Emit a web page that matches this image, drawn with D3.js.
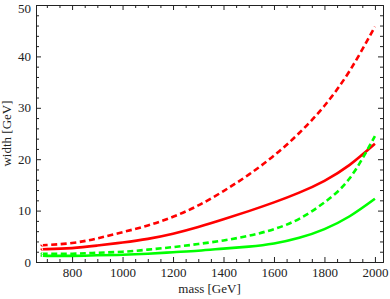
<!DOCTYPE html>
<html>
<head>
<meta charset="utf-8">
<script src="https://cdn.jsdelivr.net/npm/d3@7"></script>
<style>
  body { margin: 0; background: #fff; }
</style>
</head>
<body>
<script>
//Size of the picture
var w = 390;
var h = 299;
var margin = {left: 36, right: 7, top: 5, bottom: 37};
var serif = "Liberation Serif";

//Data: masses in GeV, widths in GeV
var masses       = [680, 700, 800, 900, 1000, 1100, 1200, 1300, 1400, 1500, 1600, 1700, 1800, 1900, 2000];
var redSolid     = [2.5, 2.5, 2.7, 3.2, 3.8, 4.5, 5.5, 6.8, 8.3, 9.9, 11.6, 13.5, 15.8, 18.9, 23.0];
var redDashed    = [3.3, 3.3, 3.7, 4.6, 5.8, 7.1, 8.8, 11.0, 13.8, 17.0, 20.7, 25.1, 30.4, 37.2, 45.8];
var greenSolid   = [1.2, 1.2, 1.2, 1.3, 1.4, 1.6, 1.9, 2.2, 2.6, 3.0, 3.6, 4.7, 6.4, 8.9, 12.3];
var greenDashed  = [1.6, 1.6, 1.6, 1.8, 2.0, 2.4, 2.9, 3.5, 4.2, 5.1, 6.4, 8.4, 11.6, 16.3, 24.5];

var xTicks = [800, 1000, 1200, 1400, 1600, 1800, 2000];
var yTicks = [0, 10, 20, 30, 40, 50];

var series = [
  {values: redDashed,   color: "#ff0000", dash: "6,3.5"},
  {values: redSolid,    color: "#ff0000", dash: null},
  {values: greenDashed, color: "#00ff00", dash: "6,3.5"},
  {values: greenSolid,  color: "#00ff00", dash: null}
];

//Scales
var xScale = d3.scaleLinear()
  .domain([657, 2032])
  .range([margin.left, w - margin.right]);

var yScale = d3.scaleLinear()
  .domain([0, 50])
  .range([h - margin.bottom, margin.top]);

var svg = d3.select("body")
  .append("svg")
  .attr("width", w)
  .attr("height", h);

//Curves
var line = d3.line()
  .x(function(d) { return xScale(d[0]); })
  .y(function(d) { return yScale(d[1]); })
  .curve(d3.curveNatural);

svg.append("g")
  .selectAll("path")
  .data(series)
  .enter()
  .append("path")
  .attr("fill", "none")
  .attr("stroke", function(d) { return d.color; })
  .attr("stroke-width", 2.6)
  .attr("stroke-dasharray", function(d) { return d.dash; })
  .attr("d", function(d) {
    return line(masses.map(function(m, i) { return [m, d.values[i]]; }));
  });

//Frame axes, ticks pointing inside
var xMinor = d3.range(700, 2001, 50).filter(function(v) { return v % 200 !== 0; });
var yMinor = d3.range(0, 51, 2).filter(function(v) { return v % 10 !== 0; });

function frameAxis(axis, transform) {
  var g = svg.append("g").attr("transform", transform).call(axis);
  g.attr("font-family", serif).attr("font-size", 13);
  g.select(".domain").attr("stroke", "#222");
  g.selectAll(".tick line").attr("stroke", "#222");
  return g;
}

var H = h - margin.bottom, W = w - margin.right;

//bottom
frameAxis(d3.axisBottom(xScale).tickValues(xTicks).tickSize(-5).tickSizeOuter(0)
  .tickFormat(d3.format("d")), "translate(0," + H + ")")
  .selectAll("text").attr("y", 6);
frameAxis(d3.axisBottom(xScale).tickValues(xMinor).tickSize(-3).tickSizeOuter(0)
  .tickFormat(""), "translate(0," + H + ")");
//top
frameAxis(d3.axisTop(xScale).tickValues(xTicks).tickSize(-5).tickSizeOuter(0)
  .tickFormat(""), "translate(0," + margin.top + ")");
frameAxis(d3.axisTop(xScale).tickValues(xMinor).tickSize(-3).tickSizeOuter(0)
  .tickFormat(""), "translate(0," + margin.top + ")");
//left
frameAxis(d3.axisLeft(yScale).tickValues(yTicks).tickSize(-5).tickSizeOuter(0)
  .tickFormat(d3.format("d")), "translate(" + margin.left + ",0)")
  .selectAll("text")
  .attr("x", -5)
  .attr("dy", function(d) { return d === 50 ? "0.55em" : "0.32em"; });  //top label nudged into view
frameAxis(d3.axisLeft(yScale).tickValues(yMinor).tickSize(-3).tickSizeOuter(0)
  .tickFormat(""), "translate(" + margin.left + ",0)");
//right
frameAxis(d3.axisRight(yScale).tickValues(yTicks).tickSize(-5).tickSizeOuter(0)
  .tickFormat(""), "translate(" + W + ",0)");
frameAxis(d3.axisRight(yScale).tickValues(yMinor).tickSize(-3).tickSizeOuter(0)
  .tickFormat(""), "translate(" + W + ",0)");

svg.selectAll(".tick text").attr("fill", "#222");

//Axis titles
svg.append("text")
  .attr("x", (margin.left + W) / 2)
  .attr("y", 293)
  .attr("text-anchor", "middle")
  .attr("font-family", serif)
  .attr("font-size", 13)
  .attr("fill", "#222")
  .text("mass [GeV]");

svg.append("text")
  .attr("transform", "translate(11," + ((margin.top + H) / 2) + ") rotate(-90)")
  .attr("text-anchor", "middle")
  .attr("font-family", serif)
  .attr("font-size", 13)
  .attr("fill", "#222")
  .text("width [GeV]");
</script>
</body>
</html>
